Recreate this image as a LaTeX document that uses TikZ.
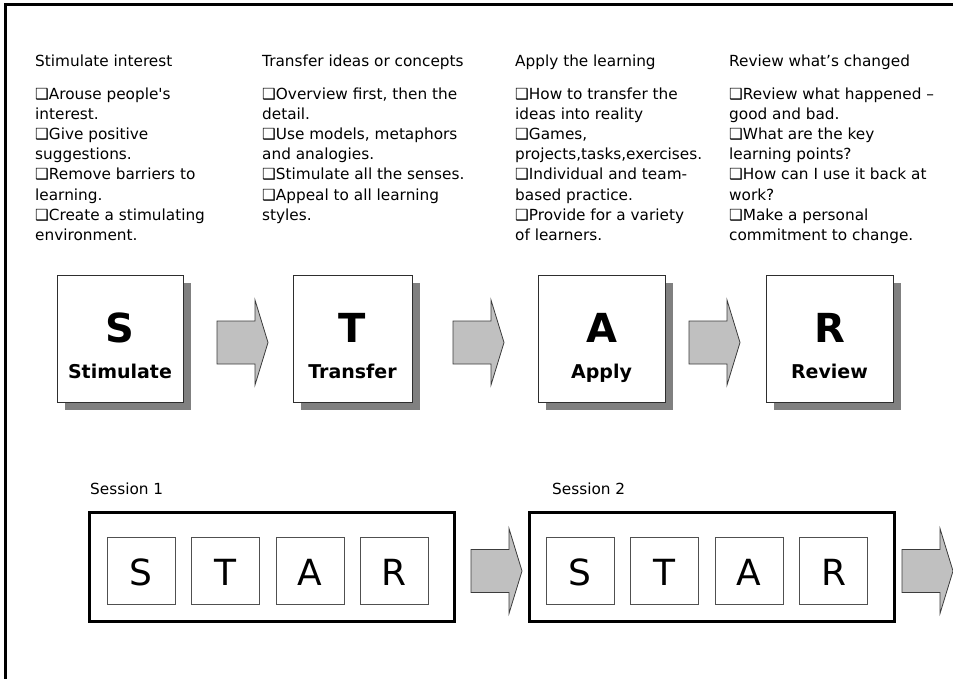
\documentclass[tikz,border=0pt]{standalone}
\usepackage{fontspec}
\usetikzlibrary{shadows}
\newfontfamily\bodyfont{DejaVu Sans}

\definecolor{arrowfill}{HTML}{C0C0C0}
\definecolor{arrowline}{HTML}{3C3C3C}
\definecolor{shadowgray}{HTML}{808080}
\definecolor{boxline}{HTML}{2E2E2E}
\definecolor{smallline}{HTML}{505050}

\tikzset{
  bodytext/.style={font=\bodyfont\fontsize{15.3bp}{20bp}\selectfont, inner sep=0pt, anchor=base west},
  bigbox/.style={draw=boxline, line width=0.9bp, fill=white, minimum width=#1,
    minimum height=127bp, inner sep=0pt,
    general shadow={fill=shadowgray, shadow xshift=8bp, shadow yshift=-8bp}},
  bigletter/.style={font=\bodyfont\bfseries\fontsize{40bp}{40bp}\selectfont, inner sep=0pt, anchor=base},
  biglabel/.style={font=\bodyfont\bfseries\fontsize{19bp}{19bp}\selectfont, inner sep=0pt, anchor=base},
  sessionbox/.style={draw=black, line width=3bp, minimum width=#1, minimum height=109bp, inner sep=0pt},
  starbox/.style={draw=smallline, line width=0.8bp, minimum width=68bp, minimum height=67bp, inner sep=0pt},
  starletter/.style={font=\bodyfont\fontsize{36bp}{36bp}\selectfont, inner sep=0pt, anchor=base},
  blockarrowstyle/.style={fill=arrowfill, draw=arrowline, line width=0.8bp, line join=miter},
  frameline/.style={draw=black, line width=3bp}
}

% block arrow whose left end is centred on #1
\newcommand\blockarrow[1]{%
  \draw[blockarrowstyle] (#1) ++(0,-21.5) -- ++(38,0) -- ++(0,-21) -- ++(13,42.5)
    -- ++(-13,42.5) -- ++(0,-21) -- ++(-38,0) -- cycle;}

\begin{document}
\begin{tikzpicture}[x=1bp, y=-1bp]
\useasboundingbox (0,0) rectangle (953,679);

% outer frame (top and left edges)
\coordinate (fbl) at (5,679);
\coordinate (ftl) at (5,5);
\coordinate (ftr) at (953,5);
\draw[frameline] (fbl) -- (ftl) -- (ftr);

% ---- column headings and bullet texts ----
\node[bodytext] (c1t) at (35,67) {Stimulate interest};
\foreach \t [count=\i from 0] in {{❑Arouse people's},{interest.},{❑Give positive},
  {suggestions.},{❑Remove barriers to},{learning.},{❑Create a stimulating},{environment.}}
  \node[bodytext] (c1l\i) at (35,100+20*\i) {\t};

\node[bodytext] (c2t) at (262,67) {Transfer ideas or concepts};
\foreach \t [count=\i from 0] in {{❑Overview first, then the},{detail.},{❑Use models, metaphors},
  {and analogies.},{❑Stimulate all the senses.},{❑Appeal to all learning},{styles.}}
  \node[bodytext] (c2l\i) at (262,100+20*\i) {\t};

\node[bodytext] (c3t) at (515,67) {Apply the learning};
\foreach \t [count=\i from 0] in {{❑How to transfer the},{ideas into reality},{❑Games,},
  {projects,tasks,exercises.},{❑Individual and team-},{based practice.},{❑Provide for a variety},{of learners.}}
  \node[bodytext] (c3l\i) at (515,100+20*\i) {\t};

\node[bodytext] (c4t) at (729,67) {Review what’s changed};
\foreach \t [count=\i from 0] in {{❑Review what happened –},{good and bad.},{❑What are the key},
  {learning points?},{❑How can I use it back at},{work?},{❑Make a personal},{commitment to change.}}
  \node[bodytext] (c4l\i) at (729,100+20*\i) {\t};

% ---- the four stage boxes ----
\node[bigbox=126bp] (bS) at (120,338.5) {};
\node[bigbox=119bp] (bT) at (352.5,338.5) {};
\node[bigbox=127bp] (bA) at (601.5,338.5) {};
\node[bigbox=127bp] (bR) at (829.5,338.5) {};

\node[bigletter] (lS) at (bS.center |- 0,342) {S};
\node[bigletter] (lT) at (bT.center |- 0,342) {T};
\node[bigletter] (lA) at (bA.center |- 0,342) {A};
\node[bigletter] (lR) at (bR.center |- 0,342) {R};
\node[biglabel] (tS) at (bS.center |- 0,378) {Stimulate};
\node[biglabel] (tT) at (bT.center |- 0,378) {Transfer};
\node[biglabel] (tA) at (bA.center |- 0,378) {Apply};
\node[biglabel] (tR) at (bR.center |- 0,378) {Review};

\coordinate (ar1) at (217,342.5);
\coordinate (ar2) at (453,342.5);
\coordinate (ar3) at (689,342.5);
\blockarrow{ar1}
\blockarrow{ar2}
\blockarrow{ar3}

% ---- sessions ----
\node[bodytext] (s1t) at (90,494) {Session 1};
\node[bodytext] (s2t) at (552,494) {Session 2};

\node[sessionbox=364bp] (ses1) at (272,566.5) {};
\node[sessionbox=365bp] (ses2) at (711.5,566.5) {};

\foreach \nm/\cx/\ch in {a/141/S,b/225.5/T,c/310/A,d/394.5/R}{
  \node[starbox] (s1\nm) at (\cx,570.5) {};
  \node[starletter] (s1\nm l) at (\cx,585) {\ch};
}
\foreach \nm/\cx/\ch in {a/580/S,b/664.5/T,c/749/A,d/833.5/R}{
  \node[starbox] (s2\nm) at (\cx,570.5) {};
  \node[starletter] (s2\nm l) at (\cx,585) {\ch};
}

\coordinate (ar4) at (471,571);
\coordinate (ar5) at (902,571);
\blockarrow{ar4}
\blockarrow{ar5}
\end{tikzpicture}
\end{document}
